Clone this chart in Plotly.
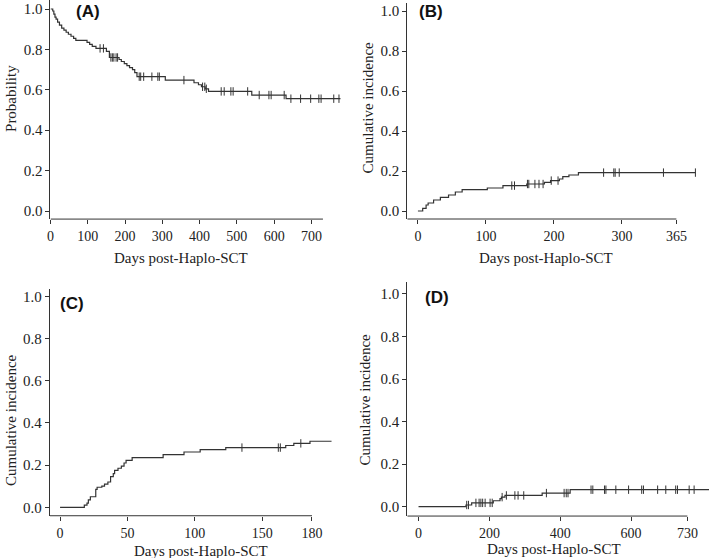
import numpy as np
import plotly.graph_objects as go

# (A) overall survival, Kaplan-Meier
a_days = [0, 6, 9, 12, 15, 19, 24, 30, 36, 42, 48, 55, 62, 68, 98, 105, 112, 122, 150, 158,
          184, 190, 198, 205, 212, 220, 226, 232, 308, 385, 397, 405, 415, 424, 540, 632]
a_prob = [1.0, 0.99, 0.975, 0.96, 0.95, 0.935, 0.92, 0.905, 0.895, 0.885, 0.875, 0.865, 0.855, 0.845,
          0.835, 0.825, 0.815, 0.805, 0.79, 0.76, 0.75, 0.74, 0.73, 0.72, 0.71, 0.70, 0.685, 0.665,
          0.648, 0.635, 0.625, 0.615, 0.605, 0.592, 0.574, 0.556]
a_cens = [133, 142, 162, 166, 170, 176, 180, 238, 242, 250, 272, 288, 292, 358, 408, 414, 418,
          458, 466, 484, 490, 529, 560, 586, 592, 627, 645, 671, 698, 720, 726, 760, 774]
a_end = 778

# (B) cumulative incidence
b_days = [0, 7, 12, 15, 23, 33, 45, 55, 65, 102, 125, 160, 186, 195, 208, 213, 222, 236]
b_inc = [0.0, 0.013, 0.03, 0.04, 0.055, 0.068, 0.08, 0.095, 0.107, 0.115, 0.127, 0.135, 0.143,
         0.152, 0.16, 0.172, 0.18, 0.192]
b_cens = [138, 142, 161, 163, 172, 178, 184, 196, 206, 273, 288, 290, 296, 361, 408]
b_end = 408

# (C) cumulative incidence
c_days = [0, 18, 20, 21, 22.5, 26.5, 27.5, 31, 33, 35.5, 37.5, 39.5, 40.5, 43, 45.5, 47.5, 49,
          53.5, 76.5, 92, 104, 123, 167.5, 173.5, 185.5]
c_inc = [0.0, 0.01, 0.02, 0.035, 0.05, 0.085, 0.095, 0.10, 0.11, 0.12, 0.145, 0.16, 0.175, 0.185,
         0.195, 0.21, 0.222, 0.235, 0.25, 0.262, 0.273, 0.283, 0.293, 0.303, 0.313]
c_cens = [135, 162, 163.5, 178.7]
c_end = 201.5

# (D) cumulative incidence
d_days = [0, 134, 150, 211, 230, 234, 244, 349, 428]
d_inc = [0.0, 0.008, 0.018, 0.028, 0.038, 0.045, 0.053, 0.064, 0.08]
d_cens = [136, 141, 162, 171, 176, 181, 188, 202, 208, 236, 248, 272, 281, 297, 361, 411, 417,
          422, 487, 492, 525, 529, 557, 593, 630, 635, 675, 698, 726, 731, 764, 778]
d_end = 830

y_ticks = [0, 0.2, 0.4, 0.6, 0.8, 1.0]

W, H = 709, 558
INK = "#333333"
SERIF = "Liberation Serif"

# panel geometry in pixels: x origin, px per day, x range, y zero, px per unit, y range, axis end
panels = [
    dict(days=a_days, vals=a_prob, cens=a_cens, end=a_end, x0=47.7, xs=0.3743, xr=[0, 790],
         y0=211, ys=202, yr=[-0.04, 1.044], axend=731,
         tv=[0, 100, 200, 300, 400, 500, 600, 700], tt=None, label="(A)", lab=(71, 11),
         ytitle="Probability", ytpos=(8, 98), xtpos=(179, 258)),
    dict(days=b_days, vals=b_inc, cens=b_cens, end=b_end, x0=416.7, xs=0.683, xr=[-15.7, 418],
         y0=211, ys=200, yr=[-0.04, 1.04], axend=380,
         tv=[0, 100, 200, 300, 380], tt=["0", "100", "200", "300", "365"], label="(B)", lab=(416, 11),
         ytitle="Cumulative incidence", ytpos=(367, 107), xtpos=(545, 258)),
    dict(days=c_days, vals=c_inc, cens=c_cens, end=c_end, x0=57.3, xs=1.353, xr=[-7.6, 205],
         y0=507.3, ys=211, yr=[-0.04, 1.035], axend=187,
         tv=[0, 50, 100, 150, 187], tt=["0", "50", "100", "150", "180"], label="(C)", lab=(55, 303),
         ytitle="Cumulative incidence", ytpos=(8, 420), xtpos=(199, 551)),
    dict(days=d_days, vals=d_inc, cens=d_cens, end=d_end, x0=417.3, xs=0.3558, xr=[-31.8, 820],
         y0=506.7, ys=212.7, yr=[-0.044, 1.056], axend=759,
         tv=[0, 200, 400, 600, 759], tt=["0", "200", "400", "600", "730"], label="(D)", lab=(422, 297),
         ytitle="Cumulative incidence", ytpos=(364, 399), xtpos=(553, 549)),
]


def clamp(v):
    return min(1.0, max(0.0, v))


fig = go.Figure()
annotations = []
shapes = []

for i, p in enumerate(panels, start=1):
    sfx = "" if i == 1 else str(i)
    days = np.array(p["days"], dtype=float)
    vals = np.array(p["vals"], dtype=float)
    xs = list(days) + [p["end"]]
    ys = list(vals) + [vals[-1]]
    fig.add_trace(go.Scatter(x=xs, y=ys, mode="lines", line=dict(color=INK, width=1.2, shape="hv"),
                             xaxis="x" + sfx, yaxis="y" + sfx, showlegend=False))
    cens = np.array(p["cens"], dtype=float)
    idx = np.searchsorted(days, cens, side="right") - 1
    fig.add_trace(go.Scatter(x=cens, y=vals[idx], mode="markers",
                             marker=dict(symbol="line-ns", size=6, line=dict(color=INK, width=1)),
                             xaxis="x" + sfx, yaxis="y" + sfx, showlegend=False))

    px_l = p["x0"] + p["xr"][0] * p["xs"]
    px_r = p["x0"] + p["xr"][1] * p["xs"]
    py_b = p["y0"] - p["yr"][0] * p["ys"]
    py_t = p["y0"] - p["yr"][1] * p["ys"]
    fig.update_layout(**{
        "xaxis" + sfx: dict(domain=[clamp(px_l / W), clamp(px_r / W)], range=p["xr"], anchor="y" + sfx,
                            showgrid=False, zeroline=False, showline=False,
                            ticks="outside", ticklen=4, tickwidth=1, tickcolor=INK,
                            tickvals=p["tv"], ticktext=p["tt"] if p["tt"] else [str(v) for v in p["tv"]],
                            tickfont=dict(family=SERIF, size=14, color="#222")),
        "yaxis" + sfx: dict(domain=[clamp(1 - py_b / H), clamp(1 - py_t / H)], range=p["yr"],
                            anchor="x" + sfx,
                            showgrid=False, zeroline=False, showline=True, linecolor=INK, linewidth=1,
                            ticks="outside", ticklen=4, tickwidth=1, tickcolor=INK,
                            tickvals=y_ticks, tickformat=".1f",
                            tickfont=dict(family=SERIF, size=15, color="#222")),
    })
    # x axis line stops at the last labelled tick
    shapes.append(dict(type="line", xref="x" + sfx, yref="y" + sfx + " domain",
                       x0=p["xr"][0], x1=p["axend"], y0=0, y1=0, line=dict(color=INK, width=1)))

    annotations.append(dict(text="<b>" + p["label"] + "</b>", x=p["lab"][0] / W, y=1 - p["lab"][1] / H,
                            xref="paper", yref="paper", xanchor="left", yanchor="middle", showarrow=False,
                            font=dict(family="Liberation Sans", size=17, color="#111")))
    annotations.append(dict(text="Days post-Haplo-SCT", x=p["xtpos"][0] / W, y=1 - p["xtpos"][1] / H,
                            xref="paper", yref="paper", xanchor="center", yanchor="middle", showarrow=False,
                            font=dict(family=SERIF, size=15, color="#222")))
    annotations.append(dict(text=p["ytitle"], x=p["ytpos"][0] / W, y=1 - p["ytpos"][1] / H, textangle=-90,
                            xref="paper", yref="paper", xanchor="center", yanchor="middle", showarrow=False,
                            font=dict(family=SERIF, size=15, color="#222")))

fig.update_layout(width=W, height=H, margin=dict(l=0, r=0, t=0, b=0),
                  paper_bgcolor="white", plot_bgcolor="white",
                  annotations=annotations, shapes=shapes)

# drop the browser's default page margin so the figure fills the window
fig.write_html("out.html", config={"displayModeBar": False},
               post_script="document.body.style.margin='0';document.body.style.overflow='hidden';")
